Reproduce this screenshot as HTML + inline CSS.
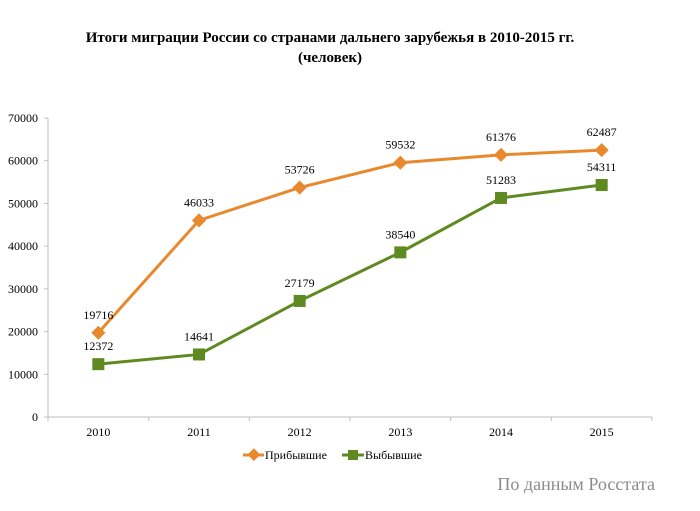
<!DOCTYPE html>
<html><head><meta charset="utf-8"><style>
body{margin:0;background:#fff;}
svg text{font-family:"Liberation Serif","DejaVu Serif",serif;}
</style></head><body>
<svg width="700" height="506" xmlns="http://www.w3.org/2000/svg">
<text x="330" y="42" text-anchor="middle" font-size="15" font-weight="bold">Итоги миграции России со странами дальнего зарубежья в 2010-2015 гг.</text>
<text x="330" y="62" text-anchor="middle" font-size="15" font-weight="bold">(человек)</text>
<g id="axes"></g>
<g id="marks"></g>
<g>
<g>
<line x1="243" y1="455" x2="264" y2="455" stroke="#E8892E" stroke-width="3"/>
<rect x="249" y="450" width="9" height="9" fill="#E8892E" transform="rotate(45 253.5 455)"/>
<text x="265" y="459" font-size="12">Прибывшие</text></g>
<g>
<line x1="342" y1="455" x2="364" y2="455" stroke="#5E8A21" stroke-width="3"/>
<rect x="348" y="450" width="10" height="10" fill="#5E8A21"/>
<text x="365" y="459" font-size="12">Выбывшие</text></g>
</g>
<text x="655" y="490" text-anchor="end" font-size="18" fill="#8a8a8a">По данным Росстата</text>
</svg>
<script>
const categories=["2010","2011","2012","2013","2014","2015"];
const arrived=[19716,46033,53726,59532,61376,62487];
const departed=[12372,14641,27179,38540,51283,54311];
const yTicks=[0,10000,20000,30000,40000,50000,60000,70000];
const NS="http://www.w3.org/2000/svg";
const x0=48,x1=652,y0=417,y1=118,yMax=70000;
const bw=(x1-x0)/categories.length;
const xS=i=>x0+bw*(i+0.5);
const yS=v=>y0-(v/yMax)*(y0-y1);
function mk(tag,attrs,parent,txt){const e=document.createElementNS(NS,tag);for(const k in attrs)e.setAttribute(k,attrs[k]);if(txt!==undefined)e.textContent=txt;parent.appendChild(e);return e;}
const ax=document.getElementById('axes'),mg=document.getElementById('marks');
let e=mk('line',{x1:x0,y1:y1,x2:x0,y2:y0,stroke:'#bfbfbf'},ax);


e=mk('line',{x1:x0,y1:y0,x2:x1,y2:y0,stroke:'#bfbfbf'},ax);


yTicks.forEach(t=>{
 mk('line',{x1:x0-4,y1:yS(t),x2:x0,y2:yS(t),stroke:'#bfbfbf'},ax);
 const l=mk('text',{x:38,y:yS(t)+4,'text-anchor':'end','font-size':12},ax,String(t));
 
 
});
for(let i=0;i<=categories.length;i++)mk('line',{x1:x0+bw*i,y1:y0,x2:x0+bw*i,y2:y0+4,stroke:'#bfbfbf'},ax);
categories.forEach((c,i)=>{
 const l=mk('text',{x:xS(i),y:436,'text-anchor':'middle','font-size':12},ax,c);
 
 
});
function series(vals,color,name,square){
 const p=mk('polyline',{points:vals.map((v,i)=>xS(i)+','+yS(v)).join(' '),fill:'none',stroke:color,'stroke-width':3},mg);
 
 
 vals.forEach((v,i)=>{
  const x=xS(i),y=yS(v);let m;
  if(square)m=mk('rect',{x:x-6,y:y-6,width:12,height:12,fill:color},mg);
  else m=mk('rect',{x:x-5,y:y-5,width:10,height:10,fill:color,transform:`rotate(45 ${x} ${y})`},mg);
  
  
  const l=mk('text',{x:x,y:y-14,'text-anchor':'middle','font-size':12},mg,String(v));
  
  
 });
}
series(arrived,'#E8892E','arrived',false);
series(departed,'#5E8A21','departed',true);
</script>
</body></html>
